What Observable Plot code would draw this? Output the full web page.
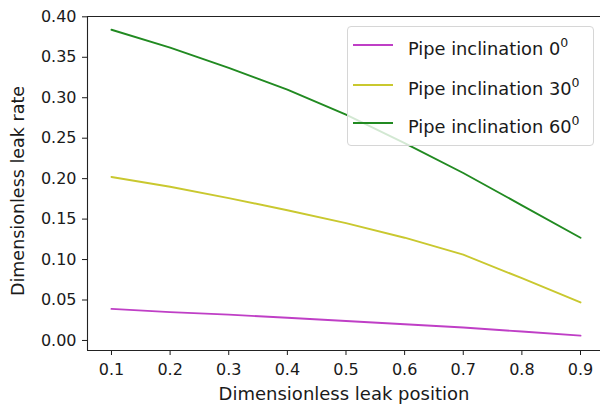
<!DOCTYPE html>
<html>
<head>
<meta charset="utf-8">
<script src="https://cdn.jsdelivr.net/npm/d3@7"></script>
<script src="https://cdn.jsdelivr.net/npm/@observablehq/plot@0.6"></script>
<style>
  html, body { margin: 0; padding: 0; background: #fff; }
  #wrap { position: relative; width: 600px; height: 407px; font-family: "DejaVu Sans", sans-serif; color: #1a1a1a; }
  #legend { position: absolute; left: 347px; top: 26px; width: 247px; height: 120px; box-sizing: border-box;
            border: 1px solid #d6d6d6; border-radius: 4px; background: rgba(255,255,255,0.8); }
  .row { position: absolute; left: 0; height: 20px; }
  .sw { position: absolute; left: 5px; width: 40px; height: 2px; top: 9px; }
  .lab { position: absolute; left: 60px; top: -1px; font-size: 17.8px; line-height: 20px; white-space: nowrap; }
  .lab sup { font-size: 12.5px; position: relative; top: -1px; }
  .xtitle { position: absolute; left: 344px; top: 384px; transform: translateX(-50%); font-size: 18px; line-height: 20px; white-space: nowrap; }
  .ytitle { position: absolute; left: 18px; top: 191px; transform: translate(-50%, -50%) rotate(-90deg); font-size: 17.5px; line-height: 20px; white-space: nowrap; }
</style>
</head>
<body>
<div id="wrap"></div>
<script>
const positions = [0.1, 0.2, 0.3, 0.4, 0.5, 0.6, 0.7, 0.8, 0.9];
const rate0  = [0.039, 0.035, 0.032, 0.028, 0.024, 0.020, 0.016, 0.011, 0.006];
const rate30 = [0.202, 0.190, 0.176, 0.161, 0.145, 0.127, 0.106, 0.077, 0.047];
const rate60 = [0.384, 0.362, 0.337, 0.310, 0.279, 0.244, 0.207, 0.167, 0.127];
const seriesNames = ["Pipe inclination 0", "Pipe inclination 30", "Pipe inclination 60"];
const seriesColors = ["#bf3fc6", "#c9c82f", "#218a21"];
const xTicks = [0.1, 0.2, 0.3, 0.4, 0.5, 0.6, 0.7, 0.8, 0.9];
const yTicks = [0.00, 0.05, 0.10, 0.15, 0.20, 0.25, 0.30, 0.35, 0.40];
const xTitle = "Dimensionless leak position";
const yTitle = "Dimensionless leak rate";
const xDomain = [0.0591, 0.9341];
const yDomain = [-0.0124, 0.4004];

const allRates = [rate0, rate30, rate60];
const data = [];
allRates.forEach((arr, s) => arr.forEach((v, i) => data.push({x: positions[i], y: v, s: seriesNames[s]})));

const chart = Plot.plot({
  width: 600,
  height: 407,
  marginLeft: 87,
  marginRight: 0,
  marginTop: 16,
  marginBottom: 57,
  style: { fontFamily: "DejaVu Sans, sans-serif", fontSize: "16px", color: "#1a1a1a", background: "#fff", overflow: "visible" },
  x: { domain: xDomain },
  y: { domain: yDomain },
  color: { domain: seriesNames, range: seriesColors },
  marks: [
    Plot.axisX({ ticks: xTicks, tickFormat: d => d.toFixed(1), tickSize: 5, tickPadding: 8, label: null, fontSize: 16 }),
    Plot.axisY({ ticks: yTicks, tickFormat: d => d.toFixed(2), tickSize: 5, tickPadding: 6, label: null, fontSize: 16 }),
    Plot.line(data, { x: "x", y: "y", z: "s", stroke: "s", strokeWidth: 1.9 }),
    Plot.ruleX([xDomain[0]], { stroke: "#222", strokeWidth: 1.1 }),
    Plot.ruleY([yDomain[0], yDomain[1]], { stroke: "#222", strokeWidth: 1.1 })
  ]
});

const wrap = document.getElementById("wrap");
wrap.appendChild(chart);

const xt = document.createElement("div");
xt.className = "xtitle";
xt.textContent = xTitle;
wrap.appendChild(xt);
const yt = document.createElement("div");
yt.className = "ytitle";
yt.textContent = yTitle;
wrap.appendChild(yt);

const legend = document.createElement("div");
legend.id = "legend";
const supVals = ["0", "0", "0"];
const rowTops = [8, 48, 86];
seriesNames.forEach((name, i) => {
  const row = document.createElement("div");
  row.className = "row";
  row.style.top = rowTops[i] + "px";
  const sw = document.createElement("div");
  sw.className = "sw";
  sw.style.background = seriesColors[i];
  const lab = document.createElement("div");
  lab.className = "lab";
  lab.innerHTML = name + "<sup>" + supVals[i] + "</sup>";
  row.appendChild(sw);
  row.appendChild(lab);
  legend.appendChild(row);
});
wrap.appendChild(legend);
</script>
</body>
</html>
